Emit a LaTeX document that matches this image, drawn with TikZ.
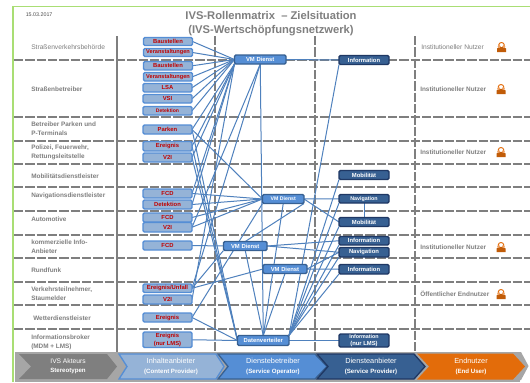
\documentclass[tikz,border=0pt]{standalone}
\usepackage{fontspec}
\setmainfont{Liberation Sans}
\pgfdeclarelayer{gridl}
\pgfdeclarelayer{linkl}
\pgfsetlayers{gridl,linkl,main}
\definecolor{gridgray}{HTML}{7F7F7F}
\definecolor{lnk}{HTML}{4F81BD}
\definecolor{cfill}{HTML}{95B3D7}
\definecolor{cbord}{HTML}{558ED5}
\definecolor{cred}{HTML}{C00000}
\definecolor{sfill}{HTML}{558ED5}
\definecolor{sbord}{HTML}{376092}
\definecolor{pfill}{HTML}{376092}
\definecolor{pbord}{HTML}{1F3864}
\definecolor{framegreen}{HTML}{A9DE74}
\definecolor{txtgray}{HTML}{7F7F7F}
\definecolor{orng}{HTML}{E36C0A}
\definecolor{orngl}{HTML}{F0A060}
\definecolor{bandgray}{HTML}{A6A6A6}
\tikzset{
 x=0.75pt,y=-0.75pt,
 box/.style={rectangle,rounded corners=1pt,inner sep=0pt,outer sep=0pt,align=center,font=\fontsize{4.4}{5.6}\selectfont\bfseries},
 content/.style={box,fill=cfill,draw=cbord,line width=1pt,text=cred},
 oper/.style={box,fill=sfill,draw=sbord,line width=1pt,text=white},
 prov/.style={box,fill=pfill,draw=pbord,line width=1pt,text=white},
 lnkline/.style={draw=lnk,line width=0.75pt},
 rowline/.style={draw=gridgray,line width=1.1pt,dash pattern=on 7pt off 1.5pt},
 role/.style={inner sep=0pt,align=left,anchor=west,text=txtgray,font=\fontsize{4.8}{6.8}\selectfont\bfseries},
 roler/.style={inner sep=0pt,anchor=west,text=txtgray,font=\fontsize{4.8}{7}\selectfont\bfseries},
 chevlabel/.style={inner sep=0pt,align=center,text=white,font=\fontsize{4.6}{6.8}\selectfont},
}
\newcommand{\cbox}[5]{\node[content,minimum width=49*0.75pt,minimum height=#4*0.75pt,anchor=north west] (#1) at (#2,#3) {#5};}
\newcommand{\obox}[6]{\node[oper,minimum width=#4*0.75pt,minimum height=#5*0.75pt,anchor=north west] (#1) at (#2,#3) {#6};}
\newcommand{\pbox}[5]{\node[prov,minimum width=50*0.75pt,minimum height=#4*0.75pt,anchor=north west] (#1) at (#2,#3) {#5};}
\newcommand{\persicon}[2]{
 \fill[orng!85!black] (#1-4.5,#2+5) -- (#1-4.5,#2+1.5) .. controls (#1-4,#2-0.5) and (#1+4,#2-0.5) .. (#1+4.5,#2+1.5) -- (#1+4.5,#2+5) -- cycle;
 \fill[orngl] (#1-2.2,#2-0.5) circle[radius=1.6*0.75pt];
 \fill[orngl] (#1+2.2,#2-0.5) circle[radius=1.6*0.75pt];
 \draw[orng,line width=0.7pt] (#1-3,#2-1.5) .. controls (#1-2.5,#2-5.5) and (#1+2.5,#2-5.5) .. (#1+3,#2-1.5);
}
\begin{document}
\begin{tikzpicture}
\useasboundingbox (0,0) rectangle (530,382);
\begin{pgfonlayer}{gridl}
\fill[white] (0,0) rectangle (530,382);
\draw[framegreen,line width=0.8pt] (13,382) -- (13,6.5) -- (530,6.5);
\foreach \yy in {60,117,141,164,187,211,235,258,282,305,329}
  \draw[rowline] (14,\yy) -- (530,\yy);
\draw[gridgray,line width=1.2pt] (117,36) -- (117,353);
\foreach \xx in {215,315,415}
  \draw[rowline] (\xx,36) -- (\xx,353);
\end{pgfonlayer}
% title
\node[inner sep=0pt,anchor=west,text=black!70,font=\fontsize{4}{5}\selectfont] (datum) at (25.5,15) {15.03.2017};
\node[inner sep=0pt,align=center,text=txtgray,font=\fontsize{8.4}{10}\selectfont\bfseries] (titel) at (271,23.5) {IVS-Rollenmatrix\ \ – Zielsituation\\(IVS-Wertschöpfungsnetzwerk)};
% bottom band
\fill[bandgray] (15,352) rectangle (517,380);
\fill[bandgray] (515,352) -- (521,352) -- (528.5,366) -- (521,380) -- (515,380) -- cycle;
\fill[bandgray] (15,380) rectangle (520,382);
% chevrons
\fill[gridgray] (19,354) -- (107,354) -- (117,366.5) -- (107,379) -- (19,379) -- (31,366.5) -- cycle;
\draw[cbord,fill=cfill,line width=1pt] (119,354) -- (216,354) -- (224,366.5) -- (216,379) -- (119,379) -- (127,366.5) -- cycle;
\draw[sbord,fill=sfill,line width=1pt] (218,354) -- (315,354) -- (327,366.5) -- (315,379) -- (218,379) -- (228,366.5) -- cycle;
\draw[pbord,fill=pfill,line width=1pt] (317,354) -- (414,354) -- (425,366.5) -- (414,379) -- (317,379) -- (328,366.5) -- cycle;
\fill[orng] (417,353.5) -- (513,353.5) -- (525,366.5) -- (513,379.5) -- (417,379.5) -- (429,366.5) -- cycle;
\node[chevlabel] (c1) at (68,366.5) {\fontsize{5}{6.8}\selectfont IVS Akteurs\\\bfseries Stereotypen};
\node[chevlabel] (c2) at (171,366.5) {\fontsize{5.5}{6.8}\selectfont Inhalteanbieter\\\bfseries (Content Provider)};
\node[chevlabel] (c3) at (273,366.5) {\fontsize{5.5}{6.8}\selectfont Dienstebetreiber\\\bfseries (Service Operator)};
\node[chevlabel] (c4) at (371,366.5) {\fontsize{5.5}{6.8}\selectfont Diensteanbieter\\\bfseries (Service Provider)};
\node[chevlabel] (c5) at (471,366.5) {\fontsize{5.5}{6.8}\selectfont Endnutzer\\\bfseries (End User)};
% role labels
\node[role,font=\fontsize{5}{7}\selectfont] (r1) at (31,47.5) {Straßenverkehrsbehörde};
\node[role] (r2) at (31,89) {Straßenbetreiber};
\node[role] (r3) at (31,129) {Betreiber Parken und\\P-Terminals};
\node[role] (r4) at (31,152) {Polizei, Feuerwehr,\\Rettungsleitstelle};
\node[role] (r5) at (31,176) {Mobilitätsdienstleister};
\node[role] (r6) at (31,196) {Navigationsdienstleister};
\node[role] (r7) at (31,219.5) {Automotive};
\node[role] (r8) at (31,247) {kommerzielle Info-\\Anbieter};
\node[role] (r9) at (31,270.5) {Rundfunk};
\node[role] (r10) at (31,294) {Verkehrsteilnehmer,\\Staumelder};
\node[role] (r11) at (33,318) {Wetterdienstleister};
\node[role] (r12) at (31,342) {Informationsbroker\\(MDM + LMS)};
% end user labels
\node[roler,font=\fontsize{5}{7}\selectfont] (u1) at (421,47.5) {Institutioneller Nutzer};
\node[roler] (u2) at (420,89) {Institutioneller Nutzer};
\node[roler] (u3) at (420,152.5) {Institutioneller Nutzer};
\node[roler] (u4) at (420,247) {Institutioneller Nutzer};
\node[roler] (u5) at (420,294) {Öffentlicher Endnutzer};
\persicon{501.5}{47}
\persicon{501}{89}
\persicon{501}{152}
\persicon{501}{247}
\persicon{501}{294}
% content boxes
\cbox{a1}{143.5}{37.5}{8}{Baustellen}
\cbox{a2}{143.5}{48.5}{8}{\fontsize{4.2}{5}\selectfont Veranstaltungen}
\cbox{a3}{143.5}{61.5}{8.5}{Baustellen}
\cbox{a4}{143.5}{72.5}{8.5}{\fontsize{4.2}{5}\selectfont Veranstaltungen}
\cbox{a5}{143}{83.5}{8.5}{LSA}
\cbox{a6}{143}{94.5}{8.5}{VSI}
\cbox{a7}{143}{106.5}{8.5}{\fontsize{3.8}{5}\selectfont Detektion}
\cbox{a8}{143}{125}{9}{Parken}
\cbox{a9}{143}{141.5}{9.5}{Ereignis}
\cbox{a10}{143}{153}{9}{V2I}
\cbox{a11}{143}{189}{9}{FCD}
\cbox{a12}{143}{200}{9}{Detektion}
\cbox{a13}{143}{213}{9}{FCD}
\cbox{a14}{143}{222.5}{9.5}{V2I}
\cbox{a15}{143}{241}{9}{FCD}
\cbox{a16}{143}{284}{8.5}{Ereignis/Unfall}
\cbox{a17}{143}{295}{9}{V2I}
\cbox{a18}{143}{313}{9}{Ereignis}
\cbox{a19}{143}{332}{15.5}{Ereignis\\(nur LMS)}
% operator boxes
\obox{v1}{234.5}{55}{51.5}{9}{VM Dienst}
\obox{v2}{262.5}{194.5}{41.5}{9}{\fontsize{3.9}{5}\selectfont VM Dienst}
\obox{v3}{223.5}{241.5}{43.5}{9}{VM Dienst}
\obox{v4}{263}{264.5}{44}{9}{VM Dienst}
\obox{v5}{237.5}{335.5}{51.5}{10}{Datenverteiler}
% provider boxes
\pbox{p1}{339}{55.5}{9}{Information}
\pbox{p2}{339}{170.5}{9}{Mobilität}
\pbox{p3}{339}{194.5}{8.5}{\fontsize{4}{5}\selectfont Navigation}
\pbox{p4}{339}{217.5}{9}{Mobilität}
\pbox{p5}{339}{236.5}{8.5}{Information}
\pbox{p6}{339}{247.5}{9.5}{Navigation}
\pbox{p7}{339}{264.5}{9.5}{Information}
\pbox{p8}{339}{334}{13}{\fontsize{4}{6}\selectfont Information\\(nur LMS)}
% connectors
\begin{pgfonlayer}{linkl}
\foreach \s in {a1,a2,a3,a4,a5,a6,a7}
  \draw[lnkline] (\s.east) -- (v1.west);
\foreach \s in {a8,a9,a10,a11,a12,a17}
  \draw[lnkline] (\s.east) -- (v1.south west);
\draw[lnkline] (v1.east) -- (p1.west);
\draw[lnkline] (v1.south) -- (a14.east);
\draw[lnkline] (v1.south) -- (a16.east);
\draw[lnkline] (v1.south) -- (v5.north);
\foreach \s in {a8,a11,a12,a13,a14}
  \draw[lnkline] (\s.east) -- (v2.west);
\draw[lnkline] (v2.east) -- (p3.west);
\draw[lnkline] (v2.east) -- (p4.west);
\draw[lnkline] (v2.south west) -- (a18.east);
\draw[lnkline] (v2.south east) -- (v3.north);
\draw[lnkline] (v2.south) -- (v5.north);
\draw[lnkline] (p3.south) -- (p4.north);
\draw[lnkline] (a15.east) -- (v3.west);
\draw[lnkline] (v3.south west) -- (a16.east);
\draw[lnkline] (v3.east) -- (p5.west);
\draw[lnkline] (v3.east) -- (p6.west);
\draw[lnkline] (v3.south) -- (v5.north);
\draw[lnkline] (a16.east) -- (v4.west);
\draw[lnkline] (v4.east) -- (p7.west);
\draw[lnkline] (v4.east) -- (p6.west);
\draw[lnkline] (v4.south) -- (v5.north);
\foreach \s in {a8,a9,a10,a18,a19}
  \draw[lnkline] (\s.east) -- (v5.west);
\foreach \s in {p1,p2,p3,p4,p5,p6,p7}
  \draw[lnkline] (v5.north east) -- (\s.south west);
\draw[lnkline] (v5.east) -- (p8.west);
\end{pgfonlayer}
\end{tikzpicture}
\end{document}
